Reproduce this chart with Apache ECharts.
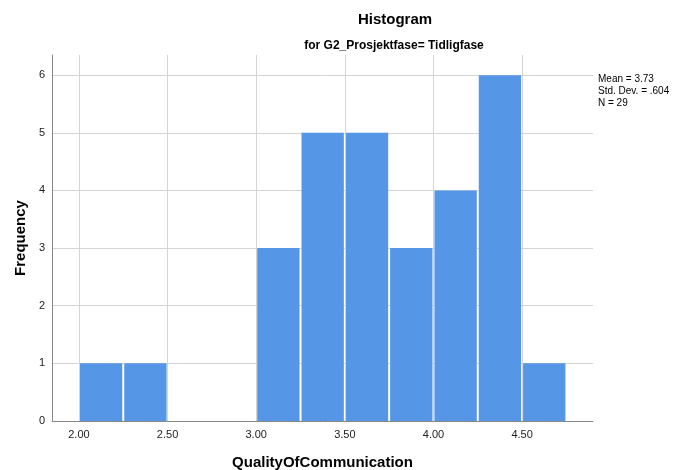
<!DOCTYPE html>
<html><head><meta charset="utf-8">
<script src="https://cdn.jsdelivr.net/npm/echarts@6/dist/echarts.min.js"></script>
<style>html,body{margin:0;padding:0;background:#fff}#c{width:684px;height:470px}</style>
</head><body><div id="c"></div>
<script>
const binStarts = [2.00, 2.25, 2.50, 2.75, 3.00, 3.25, 3.50, 3.75, 4.00, 4.25, 4.50];
const binWidth = 0.25;
const counts = [1, 1, 0, 0, 3, 5, 5, 3, 4, 6, 1];
const xTicks = [2.00, 2.50, 3.00, 3.50, 4.00, 4.50];
const yTicks = [0, 1, 2, 3, 4, 5, 6];
const statsLines = ['Mean = 3.73', 'Std. Dev. = .604', 'N = 29'];

const FONT = '"Liberation Sans", Arial, sans-serif';
const chart = echarts.init(document.getElementById('c'), null, {renderer: 'canvas'});
const data = binStarts.map((s, i) => [s, s + binWidth, counts[i]]);

chart.setOption({
  animation: false,
  backgroundColor: '#ffffff',
  title: [
    {text: 'Histogram', left: 390, top: 7, textAlign: 'center',
     textStyle: {fontFamily: FONT, fontSize: 15, fontWeight: 'bold', color: '#000'}},
    {text: 'for G2_Prosjektfase= Tidligfase', left: 389, top: 35, textAlign: 'center',
     textStyle: {fontFamily: FONT, fontSize: 12, fontWeight: 'bold', color: '#000'}}
  ],
  graphic: [{
    type: 'text', left: 598, top: 73,
    style: {text: statsLines.join('\n'), font: '10px ' + FONT, fill: '#000', lineHeight: 12}
  }],
  grid: {left: 52, right: 91, top: 55, bottom: 49, outerBoundsMode: 'none', containLabel: false},
  xAxis: {
    type: 'value', min: 1.848, max: 4.9,
    name: 'QualityOfCommunication', nameLocation: 'middle', nameGap: 34,
    nameTextStyle: {fontFamily: FONT, fontSize: 15, fontWeight: 'bold', color: '#000'},
    axisLine: {show: true, lineStyle: {color: '#888', width: 1}},
    axisTick: {show: false},
    splitLine: {show: false},
    axisLabel: {customValues: xTicks, formatter: v => v.toFixed(2), fontFamily: FONT, fontSize: 11, color: '#222', margin: 8}
  },
  yAxis: {
    type: 'value', min: 0, max: 6.35, interval: 1,
    name: 'Frequency', nameLocation: 'middle', nameGap: 24, nameRotate: 90,
    nameTextStyle: {fontFamily: FONT, fontSize: 15, fontWeight: 'bold', color: '#000'},
    axisLine: {show: true, lineStyle: {color: '#888', width: 1}},
    axisTick: {show: false},
    splitLine: {show: true, showMaxLine: false, lineStyle: {color: '#d4d4d4', width: 1}},
    axisLabel: {customValues: yTicks, formatter: v => String(v), fontFamily: FONT, fontSize: 11, color: '#222', margin: 7}
  },
  series: [
    {
      type: 'line', data: [], silent: true,
      markLine: {
        silent: true, symbol: ['none', 'none'], label: {show: false},
        lineStyle: {color: '#d4d4d4', width: 1, type: 'solid'},
        data: xTicks.map(v => ({xAxis: v}))
      }
    },
    {
      type: 'custom',
      data: data,
      renderItem: function (params, api) {
        const p0 = api.coord([api.value(0), api.value(2)]);
        const p1 = api.coord([api.value(1), 0]);
        if (api.value(2) <= 0) return null;
        return {
          type: 'rect',
          shape: {x: p0[0] + 1, y: p0[1], width: p1[0] - p0[0] - 2, height: p1[1] - p0[1]},
          style: {fill: '#5596e6'}
        };
      }
    }
  ]
});
</script></body></html>
